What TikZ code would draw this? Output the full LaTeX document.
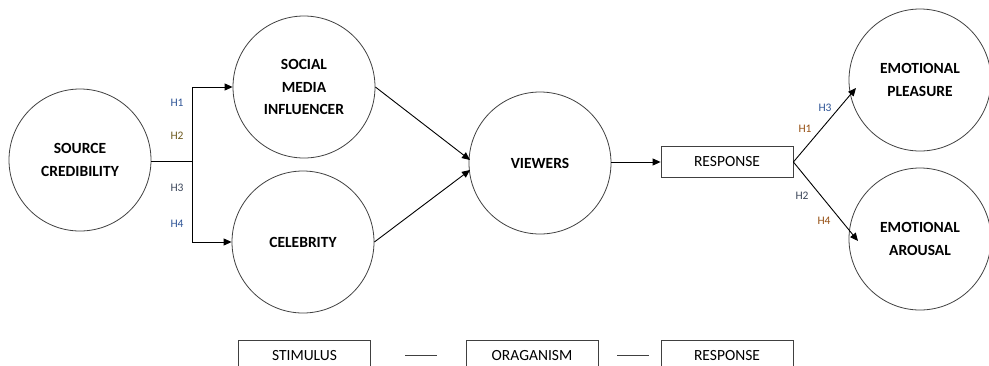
\documentclass[tikz,border=0pt]{standalone}
\usepackage{fontspec}
\setmainfont{Carlito}
\usetikzlibrary{arrows.meta}
\definecolor{hblue}{RGB}{46,84,150}
\definecolor{holive}{RGB}{110,90,30}
\definecolor{hbrown}{RGB}{150,80,20}
\definecolor{hgray}{RGB}{60,70,90}
\begin{document}
\begin{tikzpicture}[x=1pt,y=-1pt,
  circ/.style={draw=black!75,line width=0.8pt,circle,minimum size=142pt,inner sep=0pt,align=center,font=\fontsize{15.5}{22.5}\selectfont\bfseries},
  box/.style={draw=black!75,line width=0.8pt,rectangle,minimum width=132pt,minimum height=31pt,inner sep=0pt,font=\fontsize{15.5}{17}\selectfont},
  conn/.style={line width=0.9pt,black},
  arr/.style={conn,-{Triangle[length=8pt,width=7pt]}},
  hl/.style={font=\fontsize{11.5}{13}\selectfont}]
\useasboundingbox (0,0) rectangle (989,365);
\begin{scope}
\clip (0,0) rectangle (989,365);
\node[circ] (sc) at (80,160) {SOURCE\\CREDIBILITY};
\node[circ] (smi) at (304,87) {SOCIAL\\MEDIA\\INFLUENCER};
\node[circ] (cel) at (303,242) {CELEBRITY};
\node[circ] (vw) at (540,163) {VIEWERS};
\node[box] (resp) at (727,162) {RESPONSE};
\node[circ] (ep) at (920,80) {EMOTIONAL\\PLEASURE};
\node[circ] (ea) at (920,239) {EMOTIONAL\\AROUSAL};
\node[box,anchor=north,minimum height=40pt] (st) at (304.5,340) {\raisebox{10pt}{STIMULUS}};
\node[box,anchor=north,minimum height=40pt] (org) at (532,340) {\raisebox{10pt}{ORAGANISM}};
\node[box,anchor=north,minimum height=40pt] (rs2) at (727,340) {\raisebox{10pt}{RESPONSE}};
\end{scope}
\coordinate (j) at (192,161);
\draw[conn] (sc.east |- j) -- (j);
\draw[arr] (j) |- (smi.west);
\draw[arr] (j) |- (cel.west);
\node[hl,text=hblue] at (177,103) {H1};
\node[hl,text=holive] at (177,136) {H2};
\node[hl,text=hgray] at (177,188) {H3};
\node[hl,text=hblue] at (177,224) {H4};
\draw[arr] (smi.east |- 0,87) -- (470,160);
\draw[arr] (cel.east) -- (470,170);
\draw[arr] (vw.east |- resp.west) -- (resp.west);
\draw[arr] (resp.east) -- (856,88);
\draw[arr] (resp.east) -- (858,241);
\node[hl,text=hblue] at (825,108) {H3};
\node[hl,text=hbrown] at (805,129) {H1};
\node[hl,text=hgray] at (802,196) {H2};
\node[hl,text=hbrown] at (824,221) {H4};
\coordinate (d1) at (405,355);
\coordinate (d2) at (437,355);
\coordinate (d3) at (617,355);
\coordinate (d4) at (649,355);
\draw[line width=0.8pt,black!75] (d1) -- (d2);
\draw[line width=0.8pt,black!75] (d3) -- (d4);
\end{tikzpicture}
\end{document}
